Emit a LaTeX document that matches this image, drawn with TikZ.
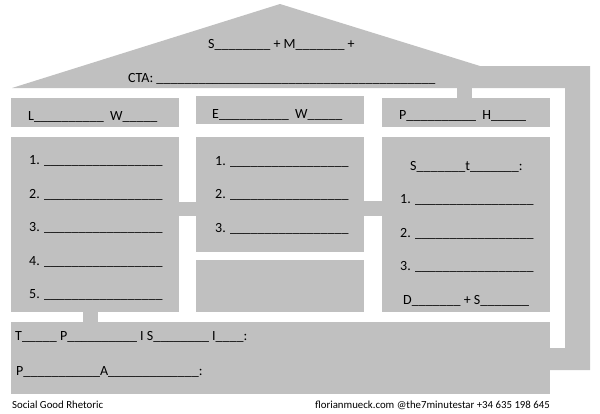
\documentclass[tikz,border=0pt]{standalone}
\usepackage{fontspec}
\setmainfont{Carlito}
\definecolor{housegray}{RGB}{192,192,192}
\newcommand\fillin[1]{\foreach\k in {1,...,#1}{\_}}
\tikzset{
	house/.style={fill=housegray},
	box/.style={house, inner sep=0pt, anchor=north west},
	txt/.style={inner sep=0pt, anchor=base west, font=\fontsize{14}{16}\selectfont},
	foot/.style={inner sep=0pt, font=\fontsize{10.8}{13}\selectfont}
}

\begin{document}
\begin{tikzpicture}[x=1pt, y=-1pt]
	\useasboundingbox (0,0) rectangle (600,413);
	% roof and right wall
	\coordinate (eave) at (565,88);
	\fill [house] (12,88) -- (280,4) -- (480,66) -- (590,66) -- (590,370) -- (550,370) -- (550,348) -- (565,348) -- (eave) -- cycle;
	\node (sm) [txt] at (208,48) {S\fillin{8} + M\fillin{7} +};
	\node (cta) [txt] at (128,82) {CTA: \fillin{40}};
	% rooms
	\node (lw) [box, minimum width=168pt, minimum height=29pt] at (11,98) {};
	\node (ew) [box, minimum width=168pt, minimum height=28pt] at (196,96) {};
	\node (ph) [box, minimum width=168pt, minimum height=29pt] at (382,98) {};
	\node (llist) [box, minimum width=168pt, minimum height=175pt] at (11,137) {};
	\node (mlist) [box, minimum width=168pt, minimum height=115pt] at (196,137) {};
	\node (mfree) [box, minimum width=168pt, minimum height=52pt] at (196,260) {};
	\node (rlist) [box, minimum width=168pt, minimum height=175pt] at (382,137) {};
	\node (tp) [box, minimum width=539pt, minimum height=72pt] at (11,322) {};
	% joints
	\fill [house] ([xshift=75pt]ph.north west) rectangle ([xshift=90pt]ph.north west |- eave);
	\fill [house] ([yshift=-65pt]llist.north east) rectangle ([yshift=-79pt]mlist.north west);
	\fill [house] ([yshift=-64pt]mlist.north east) rectangle ([yshift=-79pt]rlist.north west);
	\fill [house] ([xshift=72pt]llist.south west) rectangle ([xshift=87pt]tp.north west);
	% labels
	\node (lwt) [txt] at (28,120) {L\fillin{10}~~W\fillin{5}};
	\node (ewt) [txt] at (212,118) {E\fillin{10}~~W\fillin{5}};
	\node (pht) [txt] at (399,119.5) {P\fillin{10}~~H\fillin{5}};
	\foreach \n/\y in {1/164.5, 2/198, 3/231.5, 4/265, 5/298}
		\node (l\n) [txt] at (29,\y) {\n. \fillin{17}};
	\foreach \n/\y in {1/165, 2/198.5, 3/232}
		\node (m\n) [txt] at (215,\y) {\n. \fillin{17}};
	\node (st) [txt] at (410,170) {S\fillin{7}t\fillin{7}:};
	\foreach \n/\y in {1/203.5, 2/237, 3/270.5}
		\node (r\n) [txt] at (400,\y) {\n. \fillin{17}};
	\node (ds) [txt] at (403,304) {D\fillin{7} + S\fillin{7}};
	\node (tpis) [txt] at (15,340) {T\fillin{5} P\fillin{10} I S\fillin{8} I\fillin{4}:};
	\node (pa) [txt] at (16,375) {P\fillin{11}A\fillin{13}:};
	% footer
	\node (brand) [foot, anchor=base west] at (12,408.5) {Social Good Rhetoric};
	\node (contact) [foot, anchor=base east] at (550,408.5) {florianmueck.com @the7minutestar +34 635 198 645};
\end{tikzpicture}
\end{document}
